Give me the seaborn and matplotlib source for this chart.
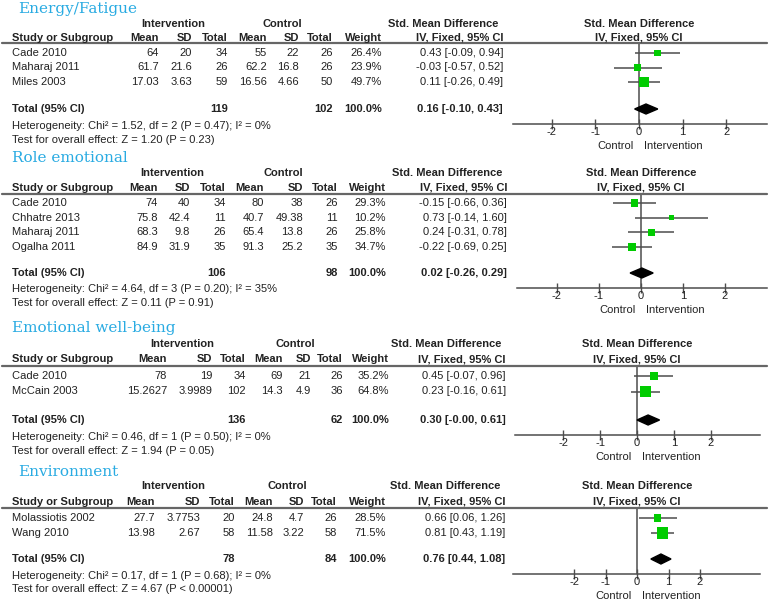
import matplotlib
matplotlib.use('Agg')
import matplotlib.pyplot as plt
import seaborn as sns
import pandas as pd
from matplotlib.lines import Line2D

# ---- data ----
titles = ['Energy/Fatigue', 'Role emotional', 'Emotional well-being', 'Environment']

energy_studies = ['Cade 2010', 'Maharaj 2011', 'Miles 2003']
energy_int_mean = ['64', '61.7', '17.03']
energy_int_sd = ['20', '21.6', '3.63']
energy_int_n = ['34', '26', '59']
energy_ctl_mean = ['55', '62.2', '16.56']
energy_ctl_sd = ['22', '16.8', '4.66']
energy_ctl_n = ['26', '26', '50']
energy_weight = [26.4, 23.9, 49.7]
energy_smd = [0.43, -0.03, 0.11]
energy_lo = [-0.09, -0.57, -0.26]
energy_hi = [0.94, 0.52, 0.49]
energy_total = ['119', '102', 0.16, -0.10, 0.43]
energy_het = 'Heterogeneity: Chi² = 1.52, df = 2 (P = 0.47); I² = 0%'
energy_test = 'Test for overall effect: Z = 1.20 (P = 0.23)'

role_studies = ['Cade 2010', 'Chhatre 2013', 'Maharaj 2011', 'Ogalha 2011']
role_int_mean = ['74', '75.8', '68.3', '84.9']
role_int_sd = ['40', '42.4', '9.8', '31.9']
role_int_n = ['34', '11', '26', '35']
role_ctl_mean = ['80', '40.7', '65.4', '91.3']
role_ctl_sd = ['38', '49.38', '13.8', '25.2']
role_ctl_n = ['26', '11', '26', '35']
role_weight = [29.3, 10.2, 25.8, 34.7]
role_smd = [-0.15, 0.73, 0.24, -0.22]
role_lo = [-0.66, -0.14, -0.31, -0.69]
role_hi = [0.36, 1.60, 0.78, 0.25]
role_total = ['106', '98', 0.02, -0.26, 0.29]
role_het = 'Heterogeneity: Chi² = 4.64, df = 3 (P = 0.20); I² = 35%'
role_test = 'Test for overall effect: Z = 0.11 (P = 0.91)'

emo_studies = ['Cade 2010', 'McCain 2003']
emo_int_mean = ['78', '15.2627']
emo_int_sd = ['19', '3.9989']
emo_int_n = ['34', '102']
emo_ctl_mean = ['69', '14.3']
emo_ctl_sd = ['21', '4.9']
emo_ctl_n = ['26', '36']
emo_weight = [35.2, 64.8]
emo_smd = [0.45, 0.23]
emo_lo = [-0.07, -0.16]
emo_hi = [0.96, 0.61]
emo_total = ['136', '62', 0.30, -0.00, 0.61]
emo_het = 'Heterogeneity: Chi² = 0.46, df = 1 (P = 0.50); I² = 0%'
emo_test = 'Test for overall effect: Z = 1.94 (P = 0.05)'

env_studies = ['Molassiotis 2002', 'Wang 2010']
env_int_mean = ['27.7', '13.98']
env_int_sd = ['3.7753', '2.67']
env_int_n = ['20', '58']
env_ctl_mean = ['24.8', '11.58']
env_ctl_sd = ['4.7', '3.22']
env_ctl_n = ['26', '58']
env_weight = [28.5, 71.5]
env_smd = [0.66, 0.81]
env_lo = [0.06, 0.43]
env_hi = [1.26, 1.19]
env_total = ['78', '84', 0.76, 0.44, 1.08]
env_het = 'Heterogeneity: Chi² = 0.17, df = 1 (P = 0.68); I² = 0%'
env_test = 'Test for overall effect: Z = 4.67 (P < 0.00001)'

ticks = [-2, -1, 0, 1, 2]

sections = [
    (energy_studies, [energy_int_mean, energy_int_sd, energy_int_n, energy_ctl_mean, energy_ctl_sd, energy_ctl_n],
     energy_weight, energy_smd, energy_lo, energy_hi, energy_total, energy_het, energy_test),
    (role_studies, [role_int_mean, role_int_sd, role_int_n, role_ctl_mean, role_ctl_sd, role_ctl_n],
     role_weight, role_smd, role_lo, role_hi, role_total, role_het, role_test),
    (emo_studies, [emo_int_mean, emo_int_sd, emo_int_n, emo_ctl_mean, emo_ctl_sd, emo_ctl_n],
     emo_weight, emo_smd, emo_lo, emo_hi, emo_total, emo_het, emo_test),
    (env_studies, [env_int_mean, env_int_sd, env_int_n, env_ctl_mean, env_ctl_sd, env_ctl_n],
     env_weight, env_smd, env_lo, env_hi, env_total, env_het, env_test),
]

# ---- layout (pixels from top-left) ----
W, H = 778, 601
layout = [
    dict(title=(18, 9), h1=24, h2=38, line=43, row0=53, pitch=14.5, total=109, het=126, test=140,
         cols=[159, 192, 228, 267, 299, 333, 382], est=503, ic=173, cc=282, ax=(513, 767, 639, 43.7)),
    dict(title=(12, 158), h1=173, h2=188, line=194, row0=203, pitch=14.6, total=273, het=289, test=303,
         cols=[158, 190, 226, 264, 303, 338, 386], est=507, ic=172, cc=283, ax=(517, 767, 641, 42.0)),
    dict(title=(12, 328), h1=344, h2=359, line=366, row0=376, pitch=15.5, total=420, het=437, test=451,
         cols=[167, 212, 246, 283, 311, 343, 389], est=506, ic=182, cc=295, ax=(515, 760, 637, 37.0)),
    dict(title=(18, 472), h1=486, h2=502, line=508, row0=518, pitch=15.0, total=559, het=576, test=589,
         cols=[155, 200, 235, 273, 304, 337, 386], est=505, ic=173, cc=287, ax=(513, 760, 637, 31.5)),
]

sns.set_theme(style='white')
plt.rcParams['font.family'] = ['Liberation Sans', 'DejaVu Sans']
FS = 8
GREY = '#4d4d4d'

fig = plt.figure(figsize=(W / 100, H / 100), dpi=100)


def fx(x):
    return x / W


def fy(y):
    return 1 - y / H


def txt(x, y, s, ha='left', bold=False, **kw):
    fig.text(fx(x), fy(y), s, ha=ha, va='center', fontsize=FS,
             fontweight='bold' if bold else 'normal', color='#222222', **kw)


def fmt_ci(m, lo, hi):
    return f'{m:.2f} [{lo:.2f}, {hi:.2f}]'


for title, sec, lay in zip(titles, sections, layout):
    studies, cols, weight, smd, lo, hi, total, het, test = sec
    fig.text(fx(lay['title'][0]), fy(lay['title'][1]), title, ha='left', va='center',
             fontsize=11, family='DejaVu Serif', color='#29abe2')

    # headers
    txt(lay['ic'], lay['h1'], 'Intervention', ha='center', bold=True)
    txt(lay['cc'], lay['h1'], 'Control', ha='center', bold=True)
    txt(lay['est'] - 60, lay['h1'], 'Std. Mean Difference', ha='center', bold=True)
    txt(lay['ax'][2], lay['h1'], 'Std. Mean Difference', ha='center', bold=True)
    txt(12, lay['h2'], 'Study or Subgroup', bold=True)
    for x, lab in zip(lay['cols'], ['Mean', 'SD', 'Total', 'Mean', 'SD', 'Total', 'Weight']):
        txt(x, lay['h2'], lab, ha='right', bold=True)
    txt(lay['est'], lay['h2'], 'IV, Fixed, 95% CI', ha='right', bold=True)
    txt(lay['ax'][2], lay['h2'], 'IV, Fixed, 95% CI', ha='center', bold=True)
    fig.add_artist(Line2D([fx(2), fx(767)], [fy(lay['line'])] * 2, color='#666666', lw=1.6))

    # study rows
    rows_y = [lay['row0'] + i * lay['pitch'] for i in range(len(studies))]
    for i, name in enumerate(studies):
        y = rows_y[i]
        txt(12, y, name)
        for x, c in zip(lay['cols'][:6], cols):
            txt(x, y, c[i], ha='right')
        txt(lay['cols'][6], y, f'{weight[i]:.1f}%', ha='right')
        txt(lay['est'], y, fmt_ci(smd[i], lo[i], hi[i]), ha='right')

    # total rows
    txt(12, lay['total'], 'Total (95% CI)', bold=True)
    txt(lay['cols'][2], lay['total'], total[0], ha='right', bold=True)
    txt(lay['cols'][5], lay['total'], total[1], ha='right', bold=True)
    txt(lay['cols'][6], lay['total'], '100.0%', ha='right', bold=True)
    txt(lay['est'], lay['total'], fmt_ci(total[2], total[3], total[4]), ha='right', bold=True)
    txt(12, lay['het'], het)
    txt(12, lay['test'], test)

    # forest panel
    left, right, zero, unit = lay['ax']
    top, bottom = lay['line'], lay['total'] + 15
    ax = fig.add_axes([fx(left), fy(bottom), (right - left) / W, (bottom - top) / H])
    ax.set_xlim((left - zero) / unit, (right - zero) / unit)
    ax.set_ylim(bottom, top)
    ax.patch.set_alpha(0)
    df = pd.DataFrame({'smd': smd, 'y': rows_y, 'w': weight})
    ax.hlines(df['y'], lo, hi, color=GREY, lw=1.1, zorder=2)
    sns.scatterplot(data=df, x='smd', y='y', size='w', sizes=(0, 95), size_norm=(0, 100),
                    marker='s', color='#00cc00', edgecolor='none', legend=False, ax=ax, zorder=3)
    t = lay['total']
    ax.fill([total[3], total[2], total[4], total[2]], [t, t - 5, t, t + 5], color='black', zorder=3)
    ax.axvline(0, color=GREY, lw=1.1, zorder=1)
    for s in ['top', 'left', 'right']:
        ax.spines[s].set_visible(False)
    ax.spines['bottom'].set_color(GREY)
    ax.spines['bottom'].set_linewidth(1.1)
    ax.set_xticks(ticks)
    ax.set_xticklabels([str(v) for v in ticks], fontsize=FS, color='#222222')
    ax.tick_params(axis='x', direction='inout', length=7, width=1, color=GREY, pad=-1, bottom=True)
    ax.set_yticks([])
    ax.set_xlabel('')
    ax.set_ylabel('')
    txt(zero - 5, bottom + 22, 'Control', ha='right')
    txt(zero + 5, bottom + 22, 'Intervention', ha='left')

fig.savefig('out.png', dpi=100)
